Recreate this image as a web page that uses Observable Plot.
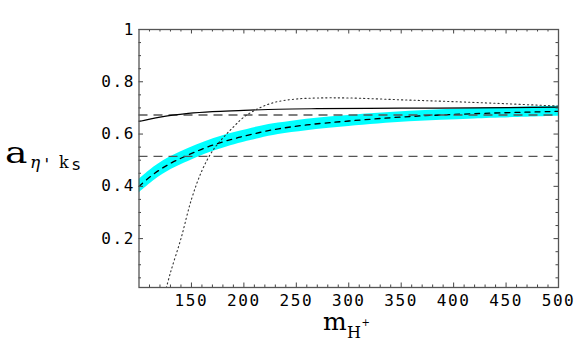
<!DOCTYPE html>
<html><head><meta charset="utf-8">
<script src="https://cdn.jsdelivr.net/npm/d3@7"></script>
<script src="https://cdn.jsdelivr.net/npm/@observablehq/plot@0.6"></script>
<style>
body{margin:0;background:#fff}
#chart{position:relative;width:576px;height:356px}
#chart svg g[aria-label="x-axis tick label"] text,
#chart svg g[aria-label="y-axis tick label"] text{letter-spacing:1.6px}
</style>
</head><body><div id="chart"></div>
<script>
// ---- data ----
const xTicks = [150, 200, 250, 300, 350, 400, 450, 500];
const yTicks = [0.2, 0.4, 0.6, 0.8, 1];

// dashed horizontal reference levels
const hLevels = [0.673, 0.515];

// solid black curve
const solidM = [100, 120, 147, 170, 195, 233, 270, 350, 420, 500];
const solidA = [0.648, 0.665, 0.679, 0.686, 0.690, 0.695, 0.697, 0.699, 0.700, 0.703];

// cyan band: central (dashed) value and half-width
const bandM    = [100, 115, 131, 147, 163, 180, 195, 215, 233, 260, 300, 358, 420, 500];
const bandMid  = [0.400, 0.450, 0.490, 0.520, 0.547, 0.570, 0.587, 0.606, 0.620, 0.635, 0.650, 0.667, 0.678, 0.687];
const bandHalf = [0.026, 0.026, 0.025, 0.025, 0.024, 0.024, 0.023, 0.023, 0.022, 0.022, 0.021, 0.020, 0.020, 0.019];

// dotted curve
const dotM = [124, 130, 140, 150, 160, 170, 180, 190, 200, 215, 230, 250, 270, 300, 350, 400, 450, 500];
const dotA = [-0.02, 0.07, 0.20, 0.35, 0.46, 0.535, 0.585, 0.627, 0.665, 0.70, 0.722, 0.734, 0.738, 0.738, 0.731, 0.724, 0.716, 0.707];

// ---- build tables ----
const solid = solidM.map((m, i) => ({m, a: solidA[i]}));
const band = bandM.map((m, i) => ({m, mid: bandMid[i], lo: bandMid[i] - bandHalf[i], hi: bandMid[i] + bandHalf[i]}));
const dots = dotM.map((m, i) => ({m, a: dotA[i]}));

const W = 576, H = 356, mL = 138.5, mR = 18, mT = 29, mB = 69;
const frameH = H - mT - mB, frameW = W - mL - mR;
const xMinor = d3.range(110, 500, 10).filter(v => v % 50 !== 0);
const yMinor = d3.range(0.05, 1, 0.05).filter(v => Math.abs(v * 5 - Math.round(v * 5)) > 1e-6);
const tickCol = "#444";

const plot = Plot.plot({
  width: W, height: H,
  marginLeft: mL, marginRight: mR, marginTop: mT, marginBottom: mB,
  style: {fontFamily: "'DejaVu Sans Mono', monospace", fontSize: "16px", background: "#fff", color: "#000"},
  x: {domain: [100, 500], label: null},
  y: {domain: [0.013, 1], label: null},
  marks: [
    Plot.areaY(band, {x: "m", y1: "lo", y2: "hi", fill: "#00ffff", curve: "catmull-rom", clip: true}),
    Plot.lineY(band, {x: "m", y: "mid", stroke: "#000", strokeWidth: 1.3, strokeDasharray: "5,5", curve: "catmull-rom", clip: true}),
    Plot.ruleY(hLevels, {stroke: "#555", strokeWidth: 1.3, strokeDasharray: "9,6"}),
    Plot.lineY(solid, {x: "m", y: "a", stroke: "#000", strokeWidth: 1.2, curve: "catmull-rom", clip: true}),
    Plot.lineY(dots, {x: "m", y: "a", stroke: "#333", strokeWidth: 1.1, strokeDasharray: "1.2,3", curve: "catmull-rom", clip: true}),
    // inward ticks on all four sides
    Plot.ruleX(xMinor, {insetTop: frameH - 2.5, stroke: tickCol}),
    Plot.ruleX(xMinor, {insetBottom: frameH - 2.5, stroke: tickCol}),
    Plot.ruleX(xTicks, {insetTop: frameH - 4.5, stroke: tickCol}),
    Plot.ruleX(xTicks, {insetBottom: frameH - 4.5, stroke: tickCol}),
    Plot.ruleY(yMinor, {insetRight: frameW - 2.5, stroke: tickCol}),
    Plot.ruleY(yMinor, {insetLeft: frameW - 2.5, stroke: tickCol}),
    Plot.ruleY(yTicks, {insetRight: frameW - 4.5, stroke: tickCol}),
    Plot.ruleY(yTicks, {insetLeft: frameW - 4.5, stroke: tickCol}),
    Plot.frame({stroke: "#555", strokeWidth: 1.3}),
    Plot.axisX(xTicks, {tickSize: 0, tickPadding: 7, fontSize: 16, tickFormat: d => String(d)}),
    Plot.axisY(yTicks, {tickSize: 0, tickPadding: 4, fontSize: 16, tickFormat: d => String(d)})
  ]
});
document.getElementById("chart").appendChild(plot);

// axis titles with sub/superscripts, each piece placed explicitly
const svg = d3.select(plot);
function put(txt, x, y, size, family, extra = {}) {
  const t = svg.append("text")
    .attr("x", x).attr("y", y)
    .attr("text-anchor", "start")
    .style("text-anchor", "start")
    .attr("fill", "#000")
    .attr("font-size", size)
    .attr("font-family", family)
    .text(txt);
  for (const [k, v] of Object.entries(extra)) t.attr(k, v);
  return t;
}
const serif = "'DejaVu Serif', serif", sans = "'DejaVu Sans', sans-serif", mono = "'DejaVu Sans Mono', monospace";
// x title: m_{H+}
put("m", 323, 330, 25, serif);
put("H", 347, 337.5, 16, serif);
put("+", 361.5, 326, 10, sans);
// y title: a_{η' k_s}
put("a", 0, 0, 29, serif, {transform: "translate(5,163) scale(1.3,1)"});
put("η", 30, 168, 17, serif, {"font-style": "italic"});
put("'", 42, 170, 16, mono);
put("k", 59, 167.5, 16, serif);
put("s", 72, 170, 16, sans);
</script>
</body></html>
